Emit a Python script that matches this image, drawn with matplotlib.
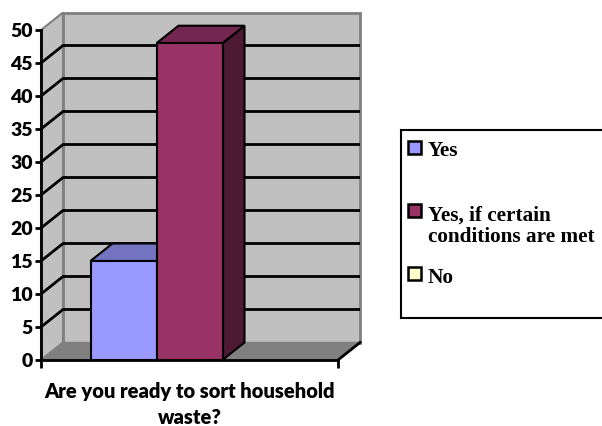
import matplotlib.pyplot as plt
from matplotlib.patches import Polygon, Rectangle

# survey answers
question = "Are you ready to sort household\nwaste?"
answers = ["Yes", "Yes, if certain\nconditions are met", "No"]
counts = [15, 48, 0]
front_colors = ["#9999FF", "#993366", "#FFFFCC"]
top_colors = ["#7373BF", "#732650", "#BFBF99"]
side_colors = ["#4D4D80", "#4D1A33", "#80806A"]
y_ticks = [0, 5, 10, 15, 20, 25, 30, 35, 40, 45, 50]

W, H = 602, 426
fig = plt.figure(figsize=(W / 100, H / 100), dpi=100)
ax = fig.add_axes([41 / W, 66 / H, 297 / W, 330 / H])

# category span in bar widths: gap of 1.5 widths split on both sides
bar_w = 1.0
gap = 1.5
span = gap + bar_w * len(counts)
ymax = 50
# depth offset of the pseudo-3d box (data units)
dx = 22 / 66
dy = 17.5 / 6.6

ax.set_xlim(0, span)
ax.set_ylim(0, ymax)

wall = "#C0C0C0"
edge = "#808080"

# back wall, side wall and floor
ax.add_patch(Rectangle((dx, dy), span, ymax, facecolor=wall, edgecolor=edge,
                       lw=2, zorder=1, clip_on=False))
ax.add_patch(Polygon([(0, 0), (dx, dy), (dx, ymax + dy), (0, ymax)],
                     facecolor=wall, edgecolor=edge, lw=1.5, zorder=1,
                     clip_on=False))
ax.add_patch(Polygon([(0, 0), (span, 0), (span + dx, dy), (dx, dy)],
                     facecolor="#808080", edgecolor=edge, lw=1, zorder=2,
                     clip_on=False))
ax.plot([span, span + dx], [0, dy], color="black", lw=2, zorder=3,
        clip_on=False)

# gridlines on side wall and back wall
for v in y_ticks[1:-1]:
    ax.plot([0, dx, span + dx], [v, v + dy, v + dy], color="black", lw=2,
            zorder=2, clip_on=False, solid_capstyle="butt")

# bars
for i, (val, fc, tc, sc) in enumerate(zip(counts, front_colors, top_colors,
                                          side_colors)):
    if val <= 0:
        continue
    x0 = gap / 2 + i * bar_w
    x1 = x0 + bar_w
    ax.add_patch(Polygon([(x1, 0), (x1 + dx, dy), (x1 + dx, val + dy), (x1, val)],
                         facecolor=sc, edgecolor="black", lw=1.5, zorder=4 + i,
                         clip_on=False, joinstyle="miter"))
    ax.add_patch(Polygon([(x0, val), (x1, val), (x1 + dx, val + dy), (x0 + dx, val + dy)],
                         facecolor=tc, edgecolor="black", lw=1.5, zorder=4 + i,
                         clip_on=False, joinstyle="miter"))
    ax.add_patch(Rectangle((x0, 0), bar_w, val, facecolor=fc,
                           edgecolor="black", lw=1.5, zorder=4 + i,
                           clip_on=False, joinstyle="miter"))

# axes
for s in ["top", "right"]:
    ax.spines[s].set_visible(False)
for s in ["left", "bottom"]:
    ax.spines[s].set_linewidth(2)
    ax.spines[s].set_zorder(10)
ax.set_yticks(y_ticks)
ax.set_xticks([0, span])
ax.set_xticklabels([])
ax.tick_params(axis="y", direction="out", length=4, width=2, pad=2)
ax.tick_params(axis="x", direction="out", length=6, width=2)
for lbl in ax.get_yticklabels():
    lbl.set_fontfamily("Lato")
    lbl.set_fontweight("heavy")
    lbl.set_fontsize(14)
ax.set_xlabel(question, fontfamily="Lato", fontweight="heavy", fontsize=14.5,
              labelpad=6, linespacing=1.45)

# legend box
def fx(px):
    return px / W

def fy(py):
    return 1 - py / H

fig.add_artist(Rectangle((fx(401), fy(318)), fx(260), fy(130) - fy(318),
                         transform=fig.transFigure, facecolor="white",
                         edgecolor="black", lw=1.5, clip_on=False))
marker_tops = [141, 204, 267]
baselines = [[156], [221, 242], [283]]
for name, fc, mt, bl in zip(answers, front_colors, marker_tops, baselines):
    fig.add_artist(Rectangle((fx(408), fy(mt + 13)), fx(13), fy(mt) - fy(mt + 13),
                             transform=fig.transFigure, facecolor=fc,
                             edgecolor="black", lw=1.8))
    for line, b in zip(name.split("\n"), bl):
        fig.text(fx(428), fy(b), line, fontfamily="Liberation Serif",
                 fontweight="bold", fontsize=15.3, va="baseline", ha="left")

fig.savefig("out.png", dpi=100)
